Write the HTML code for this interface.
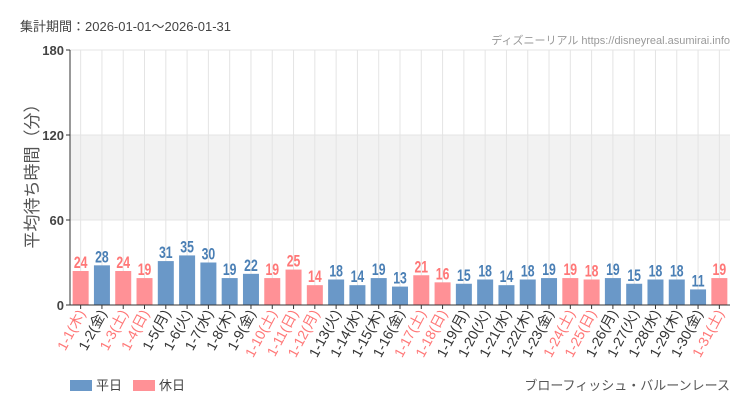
<!DOCTYPE html>
<html><head><meta charset="utf-8"><style>
body{margin:0;background:#fff}
svg{display:block;font-family:"Liberation Sans","Noto Sans CJK JP",sans-serif}
</style></head><body>
<svg width="750" height="410" viewBox="0 0 750 410" xmlns="http://www.w3.org/2000/svg">
<text x="20" y="31" font-size="13" fill="#444">集計期間：2026-01-01～2026-01-31</text>
<text x="730" y="44" font-size="11" fill="#999" text-anchor="end">ディズニーリアル https://disneyreal.asumirai.info</text>
<rect x="70" y="135" width="660" height="85" fill="#f2f2f2"/>
<g id="grid" stroke="#e4e4e4" stroke-width="1"></g>
<line x1="70" y1="50" x2="730" y2="50" stroke="#e4e4e4"/>
<line x1="70" y1="135" x2="730" y2="135" stroke="#e4e4e4"/>
<line x1="70" y1="220" x2="730" y2="220" stroke="#e4e4e4"/>
<g id="bars"></g>
<line x1="70" y1="50" x2="70" y2="305" stroke="#333"/>
<line x1="70" y1="305" x2="730" y2="305" stroke="#333"/>
<g font-size="13" font-weight="bold" fill="#444" text-anchor="end">
<text x="64" y="55">180</text><line x1="66" y1="50" x2="70" y2="50" stroke="#333"/>
<text x="64" y="140">120</text><line x1="66" y1="135" x2="70" y2="135" stroke="#333"/>
<text x="64" y="225">60</text><line x1="66" y1="220" x2="70" y2="220" stroke="#333"/>
<text x="64" y="310">0</text><line x1="66" y1="305" x2="70" y2="305" stroke="#333"/>
</g>
<text transform="translate(38,172) rotate(-90)" font-size="17" fill="#555" text-anchor="middle">平均待ち時間（分）</text>
<g id="labels"></g>
<rect x="70" y="380" width="22" height="11" fill="#6a98c8"/>
<text x="96" y="390" font-size="13" fill="#444">平日</text>
<rect x="133" y="380" width="22" height="11" fill="#ff9196"/>
<text x="159" y="390" font-size="13" fill="#444">休日</text>
<text x="730" y="390" font-size="13" fill="#555" text-anchor="end">ブローフィッシュ・バルーンレース</text>
</svg>
<script>
var v=[24,28,24,19,31,35,30,19,22,19,25,14,18,14,19,13,21,16,15,18,14,18,19,19,18,19,15,18,18,11,19];
var dw=["木","金","土","日","月","火","水"];
var hol=[1,3,4,10,11,12,17,18,24,25,31];
var ns="http://www.w3.org/2000/svg";
function el(t,a,p,txt){var e=document.createElementNS(ns,t);for(var k in a)e.setAttribute(k,a[k]);if(txt!=null)e.textContent=txt;document.getElementById(p).appendChild(e);}
for(var i=0;i<31;i++){
 var d=i+1,cx=70+21.29*(i+0.5),h=hol.indexOf(d)>=0;
 el("line",{x1:cx,y1:50,x2:cx,y2:305},"grid");
 var y=305-v[i]*255/180;
 el("rect",{x:cx-8,y:y,width:16,height:305-y,fill:h?"#ff9196":"#6a98c8"},"bars");
 el("text",{x:0,y:0,transform:"translate("+cx+","+(y-3)+") scale(0.72,1)","font-size":"17","font-weight":"bold","text-anchor":"middle",fill:h?"#f77":"#4a7fb5"},"bars",v[i]);
 el("line",{x1:cx,y1:305,x2:cx,y2:309,stroke:"#333"},"labels");
 el("text",{transform:"translate("+(cx+5)+",313) rotate(-62)","font-size":"14","text-anchor":"end",fill:h?"#f77":"#333"},"labels","1-"+d+"("+dw[i%7]+")");
}
</script>
</body></html>
